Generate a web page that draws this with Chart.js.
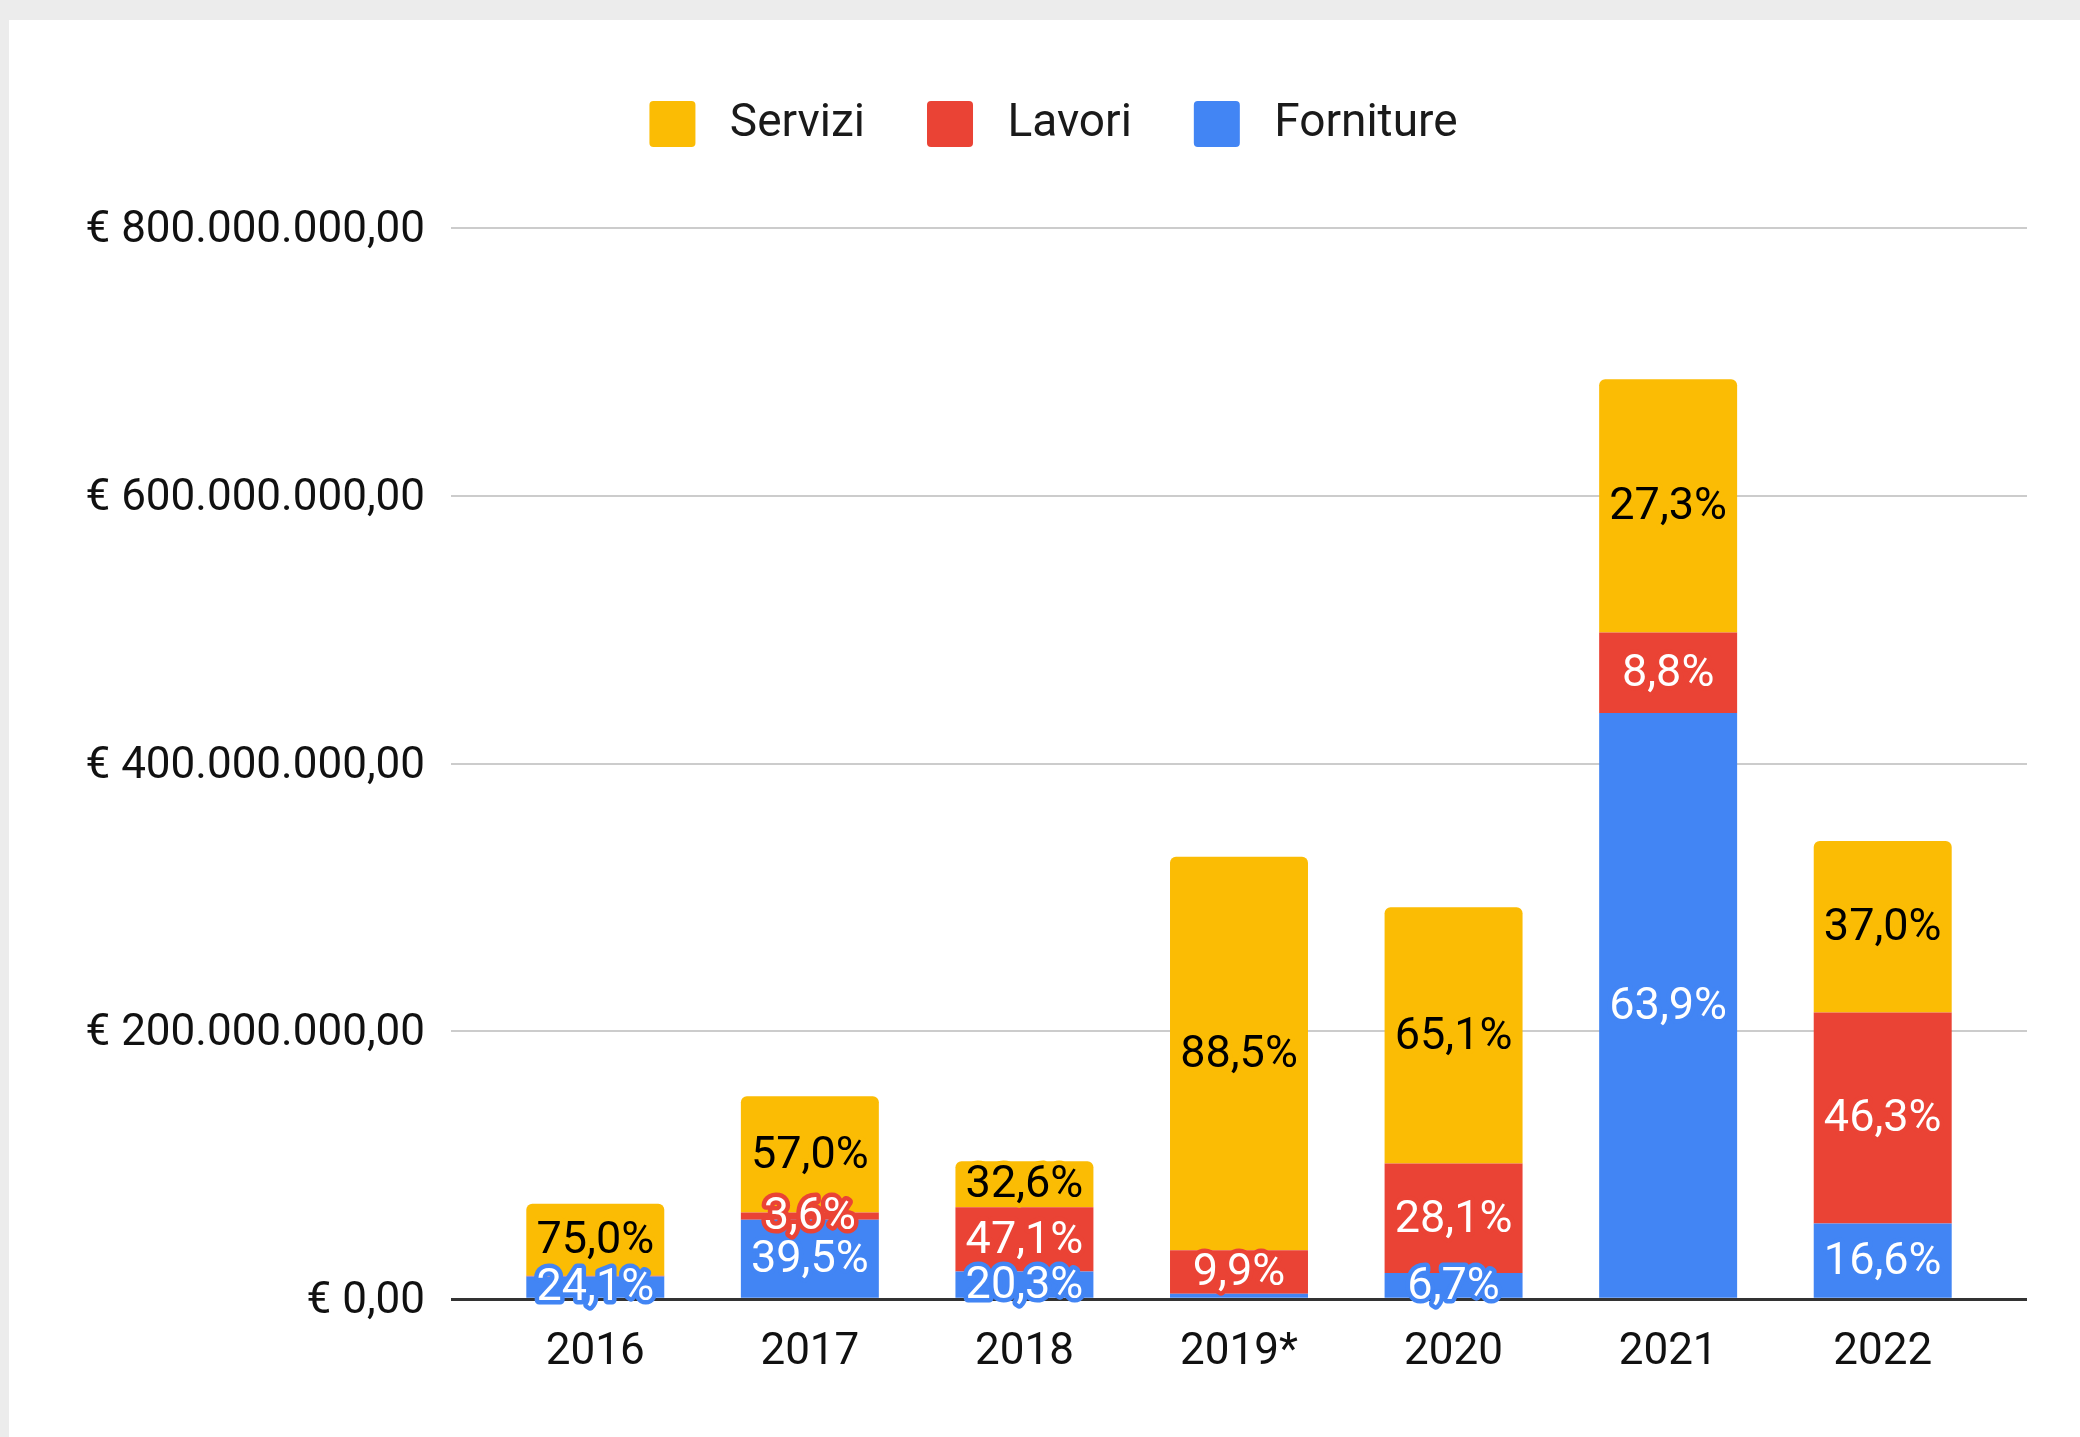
<!DOCTYPE html>
<html>
<head>
<meta charset="utf-8">
<script src="https://cdn.jsdelivr.net/npm/chart.js@4.4.1/dist/chart.umd.min.js"></script>
<style>
  body { margin: 0; background: #ececec; width: 2080px; height: 1437px; overflow: hidden; }
  #box { position: absolute; left: 9px; top: 20px; width: 2071px; height: 1417px; background: #fff; }
</style>
</head>
<body>
<div id="box"><canvas id="grafico" width="2071" height="1417"></canvas></div>
<script>
// dati (valori in euro)
const anni = ['2016', '2017', '2018', '2019*', '2020', '2021', '2022'];
const forniture = [17.0e6, 59.4e6, 20.7e6, 4.0e6, 19.5e6, 437.7e6, 56.5e6];
const lavori = [0.6e6, 5.4e6, 48.0e6, 32.5e6, 81.8e6, 60.3e6, 157.7e6];
const servizi = [53.7e6, 86.8e6, 34.3e6, 293.9e6, 191.4e6, 189.0e6, 128.0e6];

// etichette percentuali (null = non mostrata)
const pctForniture = ['24,1%', '39,5%', '20,3%', null, '6,7%', '63,9%', '16,6%'];
const pctLavori = [null, '3,6%', '47,1%', '9,9%', '28,1%', '8,8%', '46,3%'];
const pctServizi = ['75,0%', '57,0%', '32,6%', '88,5%', '65,1%', '27,3%', '37,0%'];

const yTicks = [0, 200e6, 400e6, 600e6, 800e6];

const GIALLO = '#fbbc04';
const ROSSO = '#ea4335';
const BLU = '#4285f4';

function euro(v) {
    let s = v.toFixed(2).split('.');
    let intero = s[0].replace(/\B(?=(\d{3})+(?!\d))/g, '.');
    return '€ ' + intero + ',' + s[1];
}

function coloreGriglia(ctx) {
    return (ctx.tick && ctx.tick.value === 0) ? '#333333' : '#cccccc';
}
function spessoreGriglia(ctx) {
    return (ctx.tick && ctx.tick.value === 0) ? 3 : 2;
}

// etichette dentro le barre, con alone del colore del segmento
const etichette = {
    id: 'etichette',
    afterDatasetsDraw(chart) {
        const ctx = chart.ctx;
        ctx.save();
        ctx.font = '45px Roboto';
        ctx.textAlign = 'center';
        ctx.textBaseline = 'middle';
        ctx.lineJoin = 'round';
        chart.data.datasets.forEach(function(ds, d) {
            let meta = chart.getDatasetMeta(d);
            meta.data.forEach(function(bar, i) {
                let txt = ds.percentuali[i];
                if (!txt) return;
                let y = (bar.y + bar.base) / 2 + 2;
                ctx.lineWidth = 9;
                ctx.strokeStyle = ds.backgroundColor;
                ctx.strokeText(txt, bar.x, y);
                ctx.fillStyle = ds.coloreTesto;
                ctx.fillText(txt, bar.x, y);
            });
        });
        ctx.restore();
    }
};

// spazio extra tra legenda e area del grafico
const spazioLegenda = {
    id: 'spazioLegenda',
    beforeInit(chart) {
        const fitOrig = chart.legend.fit;
        chart.legend.fit = function() {
            fitOrig.call(this);
            this.height += 71;
        };
    }
};

const ctx = document.getElementById('grafico').getContext('2d');

new Chart(ctx, {
    type: 'bar',
    data: {
        labels: anni,
        datasets: [{
            label: 'Forniture',
            data: forniture,
            backgroundColor: BLU,
            percentuali: pctForniture,
            coloreTesto: '#ffffff'
        }, {
            label: 'Lavori',
            data: lavori,
            backgroundColor: ROSSO,
            percentuali: pctLavori,
            coloreTesto: '#ffffff'
        }, {
            label: 'Servizi',
            data: servizi,
            backgroundColor: GIALLO,
            percentuali: pctServizi,
            coloreTesto: '#000000',
            borderRadius: { topLeft: 6, topRight: 6, bottomLeft: 0, bottomRight: 0 }
        }]
    },
    options: {
        responsive: false,
        animation: false,
        layout: { padding: { top: 19, left: 18, right: 0, bottom: 31 } },
        datasets: {
            bar: { barPercentage: 0.643, categoryPercentage: 1, borderWidth: 0 }
        },
        plugins: {
            tooltip: { enabled: false },
            legend: {
                position: 'top',
                reverse: true,
                labels: {
                    boxWidth: 46,
                    boxHeight: 46,
                    padding: 62,
                    useBorderRadius: true,
                    borderRadius: 4,
                    color: '#1a1a1a',
                    font: { family: 'Roboto', size: 46 },
                    generateLabels: function(chart) {
                        return Chart.defaults.plugins.legend.labels.generateLabels(chart).map(function(l) {
                            l.text = ' ' + l.text;
                            return l;
                        });
                    }
                }
            }
        },
        scales: {
            x: {
                stacked: true,
                grid: { display: false, drawTicks: false },
                border: { display: false },
                ticks: { color: '#111111', padding: 27, font: { family: 'Roboto', size: 44 } }
            },
            y: {
                stacked: true,
                min: 0,
                max: 800e6,
                afterBuildTicks: function(scale) {
                    scale.ticks = yTicks.map(v => ({ value: v }));
                },
                afterFit: function(scale) { scale.width = 461; },
                grid: { color: coloreGriglia, lineWidth: spessoreGriglia, tickLength: 37, tickColor: coloreGriglia, tickWidth: spessoreGriglia },
                border: { display: false },
                ticks: {
                    color: '#111111',
                    padding: 26,
                    labelOffset: 3,
                    font: { family: 'Roboto', size: 44 },
                    callback: function(v) { return euro(v); }
                }
            },
            y2: {
                position: 'right',
                min: 0,
                max: 800e6,
                afterBuildTicks: function(scale) {
                    scale.ticks = yTicks.map(v => ({ value: v }));
                },
                afterFit: function(scale) { scale.width = 90; },
                grid: { drawOnChartArea: false, color: coloreGriglia, lineWidth: spessoreGriglia, tickLength: 37, tickColor: coloreGriglia, tickWidth: spessoreGriglia },
                border: { display: false },
                ticks: { display: false }
            }
        }
    },
    plugins: [etichette, spazioLegenda]
});
</script>
</body>
</html>
